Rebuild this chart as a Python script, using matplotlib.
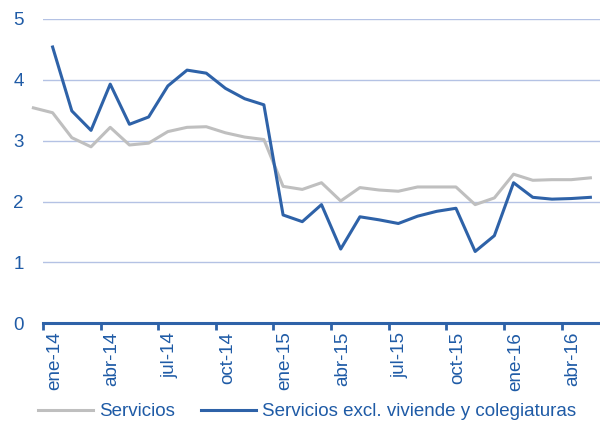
import matplotlib
matplotlib.use("Agg")
import matplotlib.pyplot as plt
import numpy as np

months = ["dic-13",
          "ene-14", "feb-14", "mar-14", "abr-14", "may-14", "jun-14", "jul-14", "ago-14", "sep-14", "oct-14", "nov-14", "dic-14",
          "ene-15", "feb-15", "mar-15", "abr-15", "may-15", "jun-15", "jul-15", "ago-15", "sep-15", "oct-15", "nov-15", "dic-15",
          "ene-16", "feb-16", "mar-16", "abr-16", "may-16"]

servicios = [3.54,
             3.46, 3.05, 2.90, 3.22, 2.93, 2.96, 3.15, 3.22, 3.23, 3.13, 3.06, 3.02,
             2.25, 2.20, 2.31, 2.01, 2.23, 2.19, 2.17, 2.24, 2.24, 2.24, 1.95, 2.06,
             2.45, 2.35, 2.36, 2.36, 2.39]

servicios_excl = [np.nan,
                  4.54, 3.49, 3.17, 3.93, 3.27, 3.39, 3.90, 4.16, 4.11, 3.86, 3.69, 3.59,
                  1.78, 1.67, 1.95, 1.22, 1.75, 1.70, 1.64, 1.76, 1.84, 1.89, 1.18, 1.44,
                  2.31, 2.07, 2.04, 2.05, 2.07]

tick_labels = ["ene-14", "abr-14", "jul-14", "oct-14", "ene-15", "abr-15",
               "jul-15", "oct-15", "ene-16", "abr-16"]

plt.rcParams['font.family'] = ['Liberation Sans', 'DejaVu Sans']

blue = "#2E62A8"
text_blue = "#1F5BA6"
gray = "#BFBFBF"
grid_c = "#B4C2E4"

fig = plt.figure(figsize=(6, 4.23), dpi=100)
ax = fig.add_axes([43/600, 99.7/423, (600-43)/600, (404-99.7)/423])

x = np.arange(len(months)) - 1  # index 0 = ene-14
ax.plot(x, servicios, color=gray, lw=2.2, clip_on=False, label="Servicios", zorder=3)
ax.plot(x, servicios_excl, color=blue, lw=2.2, clip_on=False,
        label="Servicios excl. viviende y colegiaturas", zorder=4)

ax.set_xlim(-0.5, 28.5)
ax.set_ylim(0, 5)
ax.set_yticks(range(0, 6))
ax.yaxis.grid(True, color=grid_c, lw=1)
ax.set_axisbelow(True)

tick_pos = [months.index(t) - 1 for t in tick_labels]
ax.set_xticks([p - 0.5 for p in tick_pos])
ax.set_xticklabels([])
ax.set_xticks([p + 0.1 for p in tick_pos], minor=True)
ax.set_xticklabels(tick_labels, minor=True, rotation=90, color=text_blue, fontsize=13.6)
ax.tick_params(axis='x', which='major', length=5, width=2, color=blue, direction='out')
ax.tick_params(axis='x', which='minor', length=0, pad=6)
ax.tick_params(axis='y', length=0, labelcolor=text_blue, labelsize=13.5, pad=14)

for s in ['top', 'right', 'left']:
    ax.spines[s].set_visible(False)
ax.spines['bottom'].set_color(blue)
ax.spines['bottom'].set_linewidth(2.2)

leg = fig.legend(loc='center', bbox_to_anchor=(307/600, 11.5/423), ncol=2, frameon=False,
                 fontsize=13.5, handlelength=2.95, columnspacing=1.4, handletextpad=0.3)
for t in leg.get_texts():
    t.set_color(text_blue)

fig.savefig("out.png", dpi=100)
